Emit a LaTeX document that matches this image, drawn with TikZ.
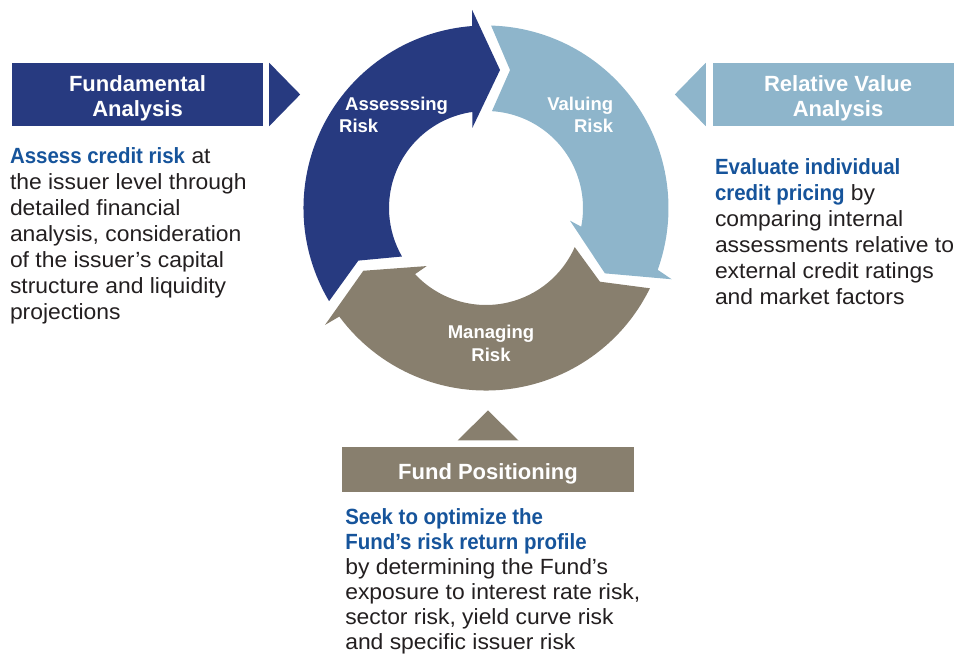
\documentclass[tikz,border=0pt]{standalone}
\usepackage{fontspec}
\setmainfont{Liberation Sans}
\newfontfamily\bodyfont{Liberation Sans}[UprightFeatures={FakeStretch=1.04},BoldFeatures={FakeStretch=0.93}]
\usetikzlibrary{positioning}
\definecolor{navyblue}{RGB}{39,58,128}
\definecolor{skyblue}{RGB}{142,181,203}
\definecolor{taupe}{RGB}{136,127,110}
\definecolor{linkblue}{RGB}{22,84,155}
\definecolor{bodygray}{RGB}{35,31,32}
\newcommand{\keyphrase}[1]{\textcolor{linkblue}{\bfseries #1}}
\newcommand{\toprule}{\rule{0pt}{24pt}}
\tikzset{
x=1pt, y=1pt, % one unit is one pixel of the layout
headbox/.style={inner sep=0pt, text=white, align=center, font=\fontsize{22}{25}\selectfont\bfseries}, % titles of the three views
ringlabel/.style={inner sep=0pt, text=white, font=\fontsize{18.5}{22.7}\selectfont\bfseries}, % labels on the cycle
blurb/.style={inner sep=0pt, text=bodygray, align=left, font=\bodyfont\fontsize{22}{26}\selectfont}, % text under each title
}

\begin{document}
\begin{tikzpicture}
      \useasboundingbox (0,0) rectangle (954,658);

      % the cycle
      \begin{scope}[shift={(486,450)}]
      \fill[navyblue] (210.7:182.5) arc[start angle=210.7, end angle=94.4, radius=182.5]
        -- (94:198.5) -- (84.2:138.7) -- (99.7:81.2) -- (98.1:97)
        arc[start angle=98.1, end angle=210, radius=97] -- (202.4:138.1) -- cycle;
      \fill[skyblue] (88.4:182.5) arc[start angle=88.4, end angle=-19.8, radius=182.5]
        -- (-21:198.9) -- (-28.8:135.7) -- (-8.6:85) -- (-11.1:97)
        arc[start angle=-11.1, end angle=86.5, radius=97] -- (80.1:140) -- cycle;
      \fill[taupe] (-26.1:182.5) arc[start angle=-26.1, end angle=-143.5, radius=182.5]
        -- (-144:199) -- (-152.9:137.8) -- (-135.6:83) -- (-137:97)
        arc[start angle=-137, end angle=-23.8, radius=97] -- (-32.9:135.7) -- cycle;
      \end{scope}

      \node[ringlabel, anchor=north west, align=left] (assess) at (339,561.3) {\hspace*{6pt}Assesssing\\Risk};
      \node[ringlabel, anchor=north east, align=right] (value) at (613.3,561.3) {Valuing\\Risk};
      \node[ringlabel, anchor=north, align=center] (manage) at (491,333) {Managing\\Risk};

      % the three views
      \node[headbox, fill=navyblue, minimum width=251pt, minimum height=63pt] (fund) at (137.5,563.5) {\toprule Fundamental\\Analysis};
      \node[headbox, fill=skyblue, minimum width=250pt, minimum height=63pt] (relval) at (838,563.5) {\toprule Relative Value\\Analysis};
      \node[headbox, fill=taupe, minimum width=292pt, minimum height=45pt, text height=20pt, text depth=0pt] (fundpos) at (488,188.8) {Fund Positioning};

      \fill[navyblue] ([xshift=6pt]fund.north east) -- ([xshift=37pt]fund.east) -- ([xshift=6pt]fund.south east) -- cycle;
      \fill[skyblue] ([xshift=-7pt]relval.north west) -- ([xshift=-38pt]relval.west) -- ([xshift=-7pt]relval.south west) -- cycle;
      \fill[taupe] ([xshift=-30.5pt,yshift=6pt]fundpos.north) -- ([yshift=36pt]fundpos.north) -- ([xshift=30.5pt,yshift=6pt]fundpos.north) -- cycle;

      \node[blurb, below=20.7pt of fund.south west, anchor=north west, xshift=-2pt] (fundtext)
        {\keyphrase{Assess credit risk} at\\the issuer level through\\detailed financial\\analysis, consideration\\of the issuer’s capital\\structure and liquidity\\projections};
      \node[blurb, below=32pt of relval.south west, anchor=north west, xshift=2pt] (reltext)
        {\keyphrase{Evaluate individual}\\\keyphrase{credit pricing} by\\comparing internal\\assessments relative to\\external credit ratings\\and market factors};
      \node[blurb, font=\bodyfont\fontsize{22}{25}\selectfont, below=16.6pt of fundpos.south west, anchor=north west, xshift=3.3pt] (postext)
        {\keyphrase{Seek to optimize the}\\\keyphrase{Fund’s risk return profile}\\by determining the Fund’s\\exposure to interest rate risk,\\sector risk, yield curve risk\\and specific issuer risk};
\end{tikzpicture}
\end{document}
